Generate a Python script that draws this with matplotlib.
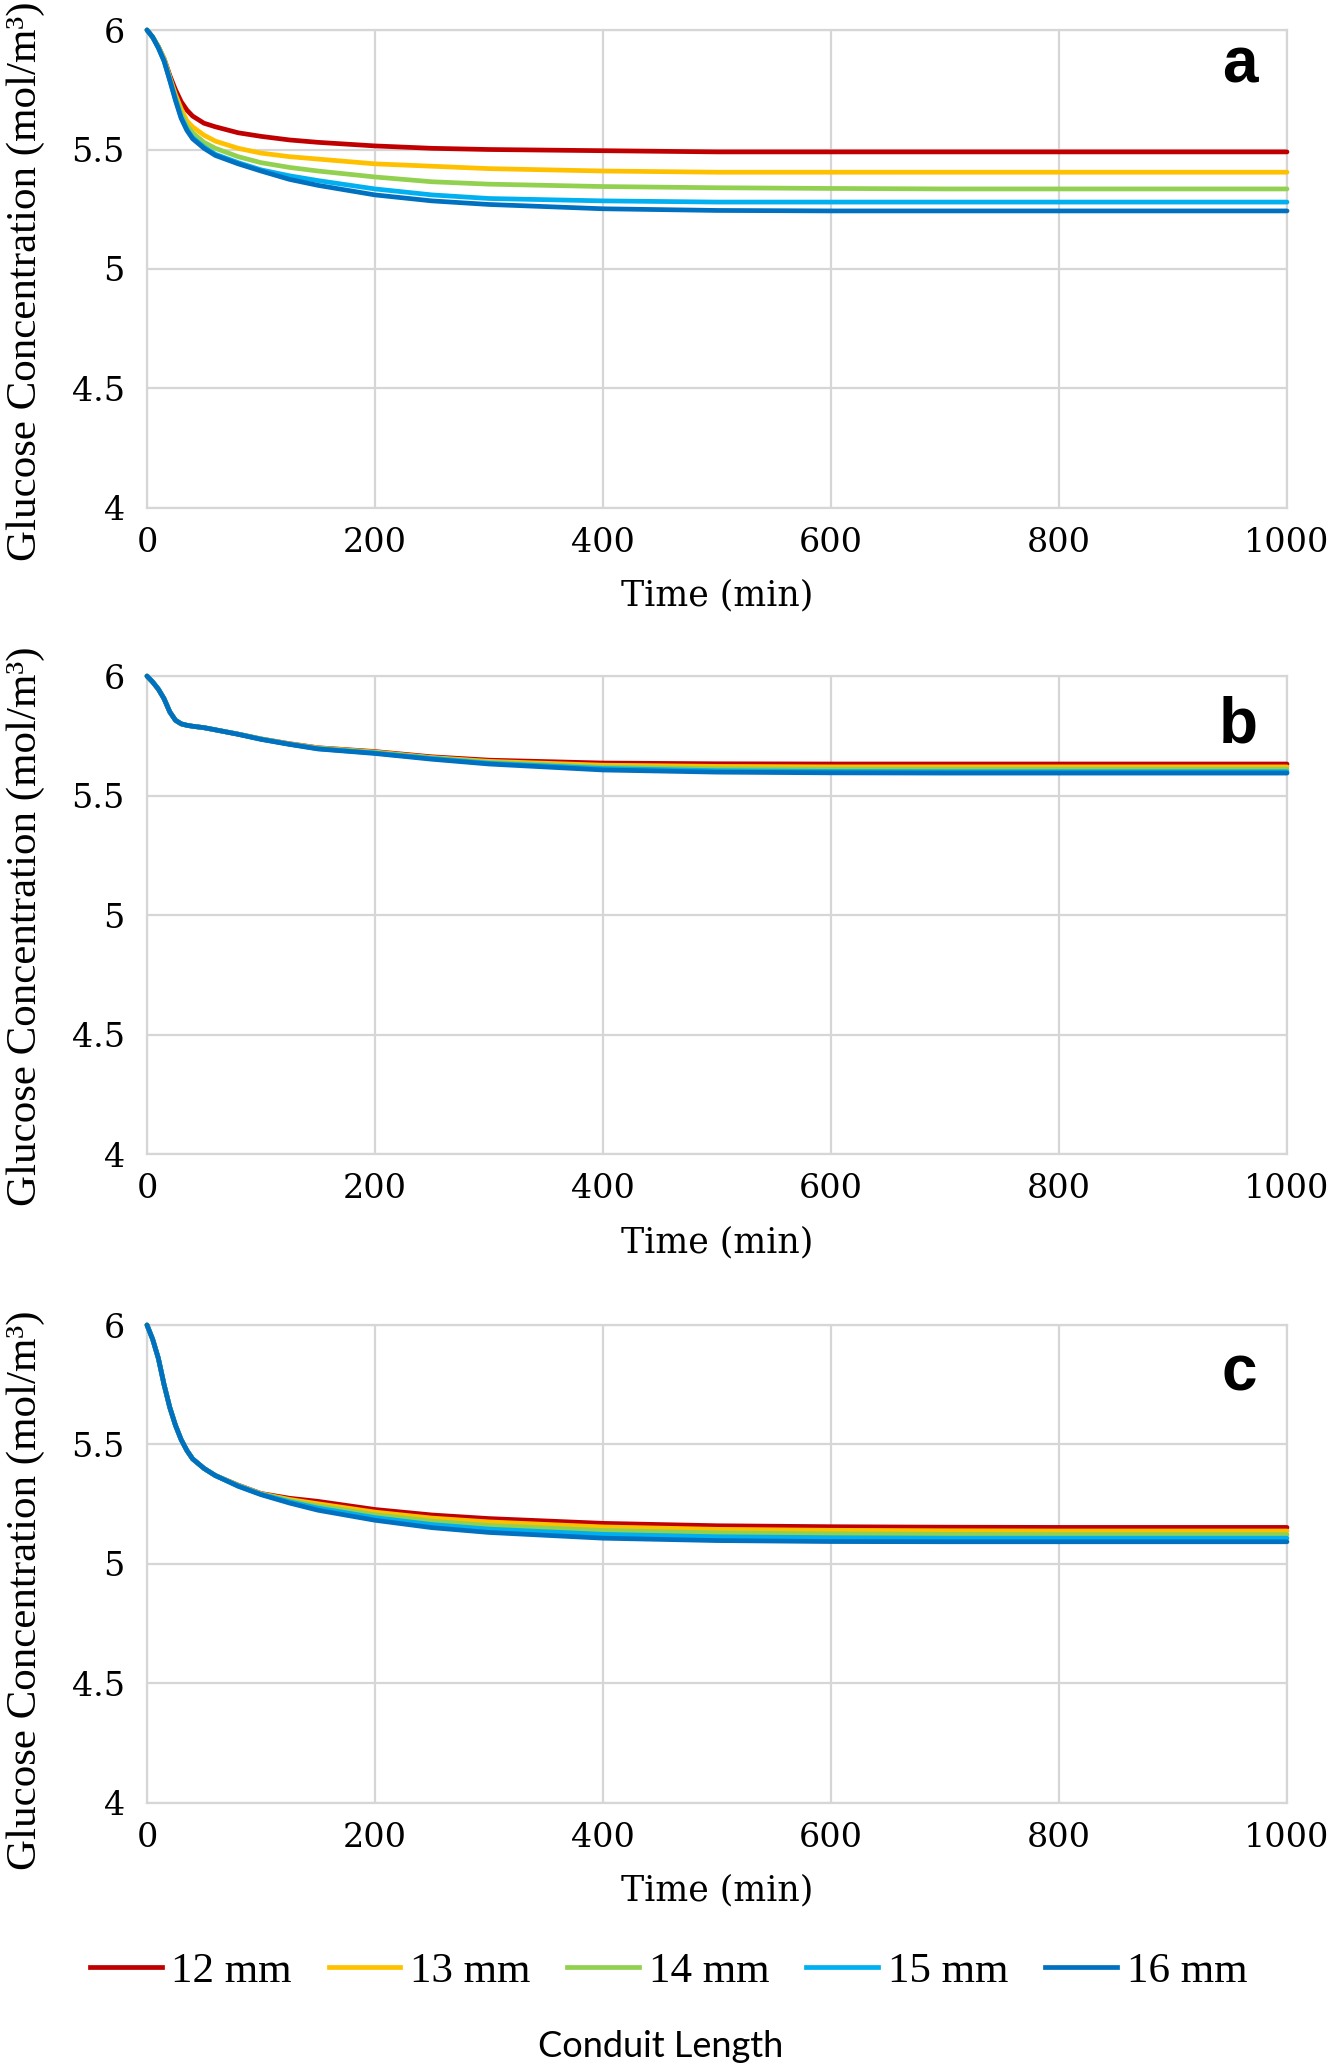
import numpy as np
import matplotlib
matplotlib.use("Agg")
import matplotlib.pyplot as plt
from matplotlib.lines import Line2D

# time axis (min)
time = [0, 5, 10, 15, 20, 25, 30, 35, 40, 50, 60, 80, 100, 125, 150,
        200, 250, 300, 400, 500, 600, 700, 800, 900, 1000]

labels = ["12 mm", "13 mm", "14 mm", "15 mm", "16 mm"]
colors = ["#C00000", "#FFC000", "#92D050", "#00B0F0", "#0070C0"]

# panel a
a_12 = [6.00, 5.97, 5.93, 5.88, 5.81, 5.75, 5.70, 5.665, 5.64, 5.61, 5.595, 5.57, 5.555, 5.54, 5.53,
        5.515, 5.505, 5.50, 5.495, 5.49, 5.49, 5.49, 5.49, 5.49, 5.49]
a_13 = [6.00, 5.97, 5.93, 5.88, 5.80, 5.73, 5.67, 5.62, 5.595, 5.56, 5.535, 5.505, 5.485, 5.47, 5.46,
        5.44, 5.43, 5.42, 5.41, 5.405, 5.405, 5.405, 5.405, 5.405, 5.405]
a_14 = [6.00, 5.97, 5.93, 5.875, 5.80, 5.72, 5.65, 5.60, 5.57, 5.53, 5.505, 5.47, 5.445, 5.425, 5.41,
        5.385, 5.365, 5.355, 5.345, 5.34, 5.337, 5.335, 5.335, 5.335, 5.335]
a_15 = [6.00, 5.97, 5.925, 5.87, 5.79, 5.71, 5.635, 5.585, 5.55, 5.51, 5.48, 5.445, 5.415, 5.39, 5.37,
        5.335, 5.31, 5.295, 5.285, 5.28, 5.28, 5.28, 5.28, 5.28, 5.28]
a_16 = [6.00, 5.97, 5.925, 5.87, 5.79, 5.705, 5.63, 5.58, 5.545, 5.505, 5.475, 5.44, 5.41, 5.375, 5.35,
        5.31, 5.285, 5.27, 5.252, 5.245, 5.243, 5.243, 5.243, 5.243, 5.243]

# panel b
b_12 = [6.00, 5.975, 5.945, 5.905, 5.85, 5.815, 5.80, 5.794, 5.79, 5.784, 5.775, 5.757, 5.737, 5.717, 5.70,
        5.684, 5.662, 5.648, 5.636, 5.633, 5.632, 5.632, 5.632, 5.632, 5.632]
b_13 = [6.00, 5.975, 5.945, 5.905, 5.85, 5.815, 5.80, 5.794, 5.79, 5.784, 5.775, 5.757, 5.737, 5.716, 5.699,
        5.682, 5.659, 5.643, 5.627, 5.622, 5.62, 5.62, 5.62, 5.62, 5.62]
b_14 = [6.00, 5.975, 5.945, 5.905, 5.85, 5.815, 5.80, 5.794, 5.79, 5.784, 5.775, 5.757, 5.737, 5.715, 5.698,
        5.680, 5.657, 5.639, 5.619, 5.612, 5.61, 5.61, 5.61, 5.61, 5.61]
b_15 = [6.00, 5.975, 5.945, 5.905, 5.85, 5.815, 5.80, 5.794, 5.79, 5.784, 5.775, 5.757, 5.736, 5.715, 5.696,
        5.678, 5.655, 5.635, 5.613, 5.604, 5.601, 5.60, 5.60, 5.60, 5.60]
b_16 = [6.00, 5.975, 5.945, 5.905, 5.85, 5.815, 5.80, 5.794, 5.79, 5.784, 5.775, 5.756, 5.735, 5.714, 5.695,
        5.676, 5.652, 5.632, 5.607, 5.598, 5.595, 5.594, 5.594, 5.594, 5.594]

# panel c
c_12 = [6.00, 5.94, 5.86, 5.75, 5.655, 5.58, 5.52, 5.475, 5.44, 5.40, 5.37, 5.33, 5.295, 5.275, 5.262,
        5.228, 5.205, 5.19, 5.17, 5.16, 5.156, 5.154, 5.153, 5.153, 5.153]
c_13 = [6.00, 5.94, 5.86, 5.75, 5.655, 5.58, 5.52, 5.475, 5.44, 5.40, 5.37, 5.329, 5.294, 5.27, 5.252,
        5.217, 5.192, 5.176, 5.155, 5.145, 5.141, 5.139, 5.138, 5.138, 5.138]
c_14 = [6.00, 5.94, 5.86, 5.75, 5.655, 5.58, 5.52, 5.475, 5.44, 5.40, 5.37, 5.328, 5.293, 5.265, 5.243,
        5.206, 5.179, 5.161, 5.14, 5.13, 5.126, 5.124, 5.123, 5.123, 5.123]
c_15 = [6.00, 5.94, 5.86, 5.75, 5.655, 5.58, 5.52, 5.475, 5.44, 5.40, 5.37, 5.327, 5.292, 5.26, 5.234,
        5.194, 5.165, 5.146, 5.124, 5.114, 5.11, 5.108, 5.108, 5.108, 5.108]
c_16 = [6.00, 5.94, 5.86, 5.75, 5.655, 5.58, 5.52, 5.475, 5.44, 5.40, 5.37, 5.325, 5.29, 5.255, 5.225,
        5.183, 5.152, 5.132, 5.108, 5.098, 5.094, 5.093, 5.093, 5.093, 5.093]

x_ticks = [0, 200, 400, 600, 800, 1000]
y_ticks = [4, 4.5, 5, 5.5, 6]
y_tick_labels = ["4", "4.5", "5", "5.5", "6"]

panels = [
    ("a", [a_12, a_13, a_14, a_15, a_16]),
    ("b", [b_12, b_13, b_14, b_15, b_16]),
    ("c", [c_12, c_13, c_14, c_15, c_16]),
]

grid_col = "#d6d6d6"
fig = plt.figure(figsize=(13.29, 20.70), dpi=100)

# axes boxes [left, bottom, width, height] in figure fraction
boxes = [
    [0.1106, 0.7546, 0.8578, 0.2309],
    [0.1106, 0.4425, 0.8578, 0.2309],
    [0.1106, 0.1290, 0.8578, 0.2309],
]
label_y = [0.475, 0.477, 0.445]
letter_y = [0.891, 0.862, 0.864]

for k, (letter, series) in enumerate(panels):
    ax = fig.add_axes(boxes[k])
    for vals, c, lab in zip(series, colors, labels):
        ax.plot(time, vals, color=c, lw=3.4, label=lab, clip_on=False,
                solid_capstyle="round", zorder=3)
    ax.set_xlim(0, 1000)
    ax.set_ylim(4, 6)
    ax.set_xticks(x_ticks)
    ax.set_yticks(y_ticks)
    ax.set_yticklabels(y_tick_labels)
    ax.grid(True, color=grid_col, lw=1.6)
    ax.set_axisbelow(True)
    for s in ax.spines.values():
        s.set_color(grid_col)
        s.set_linewidth(1.6)
    ax.tick_params(axis="both", length=0, labelsize=24)
    ax.tick_params(axis="y", pad=16)
    ax.tick_params(axis="x", pad=14)
    for t in ax.get_xticklabels() + ax.get_yticklabels():
        t.set_family("DejaVu Serif")
    ax.set_xlabel("Time (min)", fontsize=25, family="DejaVu Serif")
    ax.xaxis.label.set_va("center")
    ax.xaxis.set_label_coords(0.5, -0.184)
    ax.set_ylabel("Glucose Concentration (mol/m³)", fontsize=31, family="Liberation Serif")
    ax.yaxis.set_label_coords(-0.0895, label_y[k])
    ax.text(0.974, letter_y[k], letter, transform=ax.transAxes, ha="right", va="baseline",
            fontsize=46, fontweight="bold", family="Liberation Sans")

# shared legend at the bottom
handles = [Line2D([0], [0], color=c, lw=3.4) for c in colors]
fig.legend(handles, labels, loc="center", bbox_to_anchor=(0.503, 0.0478), ncol=5,
           frameon=False, prop={"family": "Liberation Serif", "size": 31},
           handlelength=1.67, handletextpad=0.23, columnspacing=0.85)
fig.text(0.497, 0.0063, "Conduit Length", ha="center", va="baseline",
         fontsize=26, family="Lato")

fig.savefig("out.png", dpi=100)
